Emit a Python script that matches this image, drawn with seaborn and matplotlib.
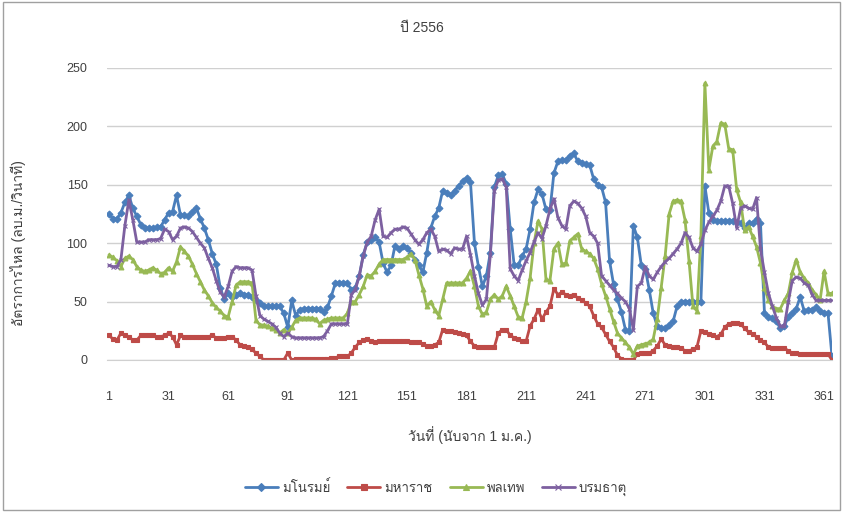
import pandas as pd
import seaborn as sns
import matplotlib
matplotlib.use("Agg")
import matplotlib.pyplot as plt
from matplotlib import font_manager
from matplotlib.ft2font import FT2Font

days = list(range(1, 366, 2))

manorom = [
    125, 121, 121, 126, 135, 141, 130, 123, 116, 113,
    113, 113, 114, 114, 120, 126, 127, 141, 124, 124,
    123, 127, 130, 121, 113, 103, 91, 82, 62, 52,
    57, 54, 56, 57, 56, 56, 54, 51, 49, 46,
    46, 46, 46, 46, 40, 28, 51, 38, 43, 44,
    44, 44, 44, 44, 41, 45, 55, 66, 66, 66,
    66, 60, 62, 72, 90, 101, 103, 105, 101, 83,
    75, 81, 98, 95, 98, 96, 92, 86, 81, 75,
    92, 113, 123, 130, 145, 143, 141, 145, 149, 153,
    156, 152, 100, 80, 63, 72, 92, 148, 158, 159,
    151, 112, 81, 81, 89, 95, 112, 135, 146, 142,
    129, 128, 160, 170, 171, 171, 175, 177, 170, 169,
    168, 167, 155, 150, 148, 135, 85, 65, 52, 41,
    26, 25, 115, 105, 81, 78, 60, 40, 29, 27,
    27, 30, 33, 46, 50, 50, 50, 50, 50, 50,
    149, 126, 120, 119, 119, 119, 119, 119, 118, 117,
    113, 117, 117, 121, 117, 40, 37, 36, 33, 27,
    29, 37, 40, 44, 54, 42, 43, 43, 45, 42,
    40, 40, 3,
]

maharat = [
    21, 18, 17, 23, 21, 20, 17, 17, 21, 21,
    21, 21, 20, 20, 21, 23, 20, 13, 21, 20,
    20, 20, 20, 20, 20, 20, 21, 19, 19, 19,
    20, 20, 17, 13, 12, 11, 9, 6, 3, 0,
    0, 0, 0, 0, 0, 6, 0, 1, 1, 1,
    1, 1, 1, 1, 1, 1, 2, 2, 3, 3,
    3, 6, 11, 15, 17, 18, 16, 15, 16, 16,
    16, 16, 16, 16, 16, 16, 15, 15, 15, 14,
    12, 12, 13, 15, 26, 25, 25, 24, 23, 22,
    21, 16, 12, 11, 11, 11, 11, 11, 23, 26,
    26, 21, 19, 18, 16, 16, 29, 35, 43, 35,
    41, 46, 61, 56, 58, 56, 55, 56, 53, 51,
    49, 46, 38, 31, 28, 22, 16, 11, 4, 1,
    0, 0, 0, 5, 6, 6, 6, 8, 12, 18,
    13, 12, 11, 11, 10, 8, 8, 9, 11, 25,
    24, 22, 21, 20, 22, 28, 31, 32, 32, 31,
    27, 24, 22, 20, 17, 15, 11, 10, 10, 10,
    10, 8, 6, 6, 5, 5, 5, 5, 5, 5,
    5, 5, 0,
]

phonlathep = [
    90, 88, 85, 80, 87, 89, 86, 80, 77, 76,
    77, 79, 77, 74, 75, 79, 76, 84, 97, 93,
    89, 82, 74, 67, 60, 55, 49, 45, 42, 38,
    37, 50, 64, 67, 67, 67, 66, 34, 30, 30,
    29, 27, 26, 23, 26, 23, 28, 34, 36, 36,
    36, 36, 35, 31, 34, 35, 36, 36, 36, 36,
    40, 50, 50, 56, 63, 73, 72, 76, 82, 86,
    86, 86, 86, 86, 86, 88, 91, 86, 73, 61,
    46, 50, 43, 38, 52, 66, 66, 66, 66, 66,
    70, 76, 63, 46, 39, 41, 52, 56, 52, 55,
    63, 55, 46, 37, 36, 50, 70, 100, 119, 112,
    69, 68, 95, 100, 82, 83, 102, 105, 108, 95,
    93, 91, 87, 78, 65, 55, 44, 33, 23, 19,
    15, 11, 5, 12, 13, 14, 15, 18, 35, 62,
    89, 125, 136, 137, 136, 120, 85, 46, 42, 106,
    237, 163, 183, 187, 203, 202, 181, 180, 146, 135,
    111, 114, 106, 97, 83, 62, 51, 46, 44, 44,
    51, 57, 75, 86, 75, 70, 66, 60, 56, 51,
    76, 57, 57,
]

boromathat = [
    81, 80, 80, 86, 115, 137, 120, 101, 101, 101,
    103, 103, 103, 104, 112, 110, 103, 106, 113, 114,
    113, 110, 105, 100, 96, 87, 79, 68, 58, 54,
    63, 76, 80, 79, 79, 79, 77, 55, 38, 35,
    33, 31, 28, 23, 20, 23, 20, 19, 19, 19,
    19, 19, 19, 19, 20, 25, 31, 31, 31, 31,
    31, 56, 60, 72, 89, 101, 106, 120, 129, 106,
    105, 109, 112, 112, 114, 113, 108, 103, 99, 103,
    109, 112, 106, 93, 95, 94, 91, 96, 95, 95,
    106, 90, 72, 57, 47, 52, 90, 145, 154, 155,
    148, 78, 72, 68, 77, 85, 92, 101, 109, 104,
    115, 129, 138, 122, 115, 112, 132, 136, 134, 130,
    123, 109, 106, 100, 72, 68, 64, 60, 57, 53,
    50, 44, 26, 63, 66, 80, 72, 69, 75, 80,
    84, 87, 91, 95, 100, 109, 105, 96, 93, 99,
    111, 118, 123, 128, 136, 149, 149, 134, 113, 130,
    132, 130, 129, 139, 95, 75, 57, 46, 36, 29,
    29, 50, 68, 71, 70, 66, 64, 56, 51, 51,
    51, 51, 51,
]

stations = ["มโนรมย์", "มหาราช", "พลเทพ", "บรมธาตุ"]
colors = ["#4A7EBB", "#BE4B48", "#98B954", "#7D60A0"]
marks = ["D", "s", "^", "x"]
x_ticks = list(range(1, 366, 30))
y_ticks = [0, 50, 100, 150, 200, 250]


def thai_font():
    # first installed font that has Thai glyphs
    for f in font_manager.fontManager.ttflist:
        try:
            if 0x0E21 in FT2Font(f.fname).get_charmap():
                return f.name
        except Exception:
            pass
    return None


sns.set_style("white")
fam = ["Liberation Sans"]
tf = thai_font()
if tf:
    fam.append(tf)
fam.append("DejaVu Sans")
plt.rcParams["font.family"] = fam

df = pd.DataFrame({
    "day": days * 4,
    "flow": manorom + maharat + phonlathep + boromathat,
    "station": sum([[s] * len(days) for s in stations], []),
})

fig = plt.figure(figsize=(8.43, 5.12), dpi=100)
ax = fig.add_axes([107 / 843, 152 / 512, 725 / 843, 292 / 512])

for s, c, m in zip(stations, colors, marks):
    sns.lineplot(data=df[df["station"] == s], x="day", y="flow", color=c,
                 marker=m, markersize=3.5, markeredgecolor=c, markeredgewidth=0.8,
                 linewidth=2, ax=ax)

ax.set_xlim(0, 365)
ax.set_ylim(0, 250)
ax.set_xticks(x_ticks)
ax.set_yticks(y_ticks)
ax.yaxis.grid(True, color="#D0D0D0", linewidth=1)
ax.xaxis.grid(False)
for sp in ["top", "right", "left"]:
    ax.spines[sp].set_visible(False)
ax.spines["bottom"].set_color("#D0D0D0")
ax.tick_params(axis="x", length=0, pad=22, labelsize=9, labelcolor="#404040")
ax.tick_params(axis="y", length=0, pad=14, labelsize=9, labelcolor="#404040")
ax.set_xlabel("")
ax.set_ylabel("")

fig.text(0.5, 1 - 28 / 512, "ปี 2556", ha="center", va="center", fontsize=10, color="#404040")
fig.text(18 / 843, 1 - 243 / 512, "อัตราการไหล (ลบ.ม./วินาที)", rotation=90,
         ha="center", va="center", fontsize=10, color="#404040")
fig.text(470 / 843, 1 - 435 / 512, "วันที่ (นับจาก 1 ม.ค.)", ha="center", va="center",
         fontsize=10, color="#404040")

handles = [plt.Line2D([], [], color=c, marker=m, markersize=4, linewidth=2,
                      markeredgecolor=c, markeredgewidth=0.8) for c, m in zip(colors, marks)]
fig.legend(handles, stations, loc="center", bbox_to_anchor=(436 / 843, 1 - 488 / 512),
           ncol=4, frameon=False, fontsize=9.5, handlelength=2.5, columnspacing=1.3,
           handletextpad=0.3, labelcolor="#404040")

fig.patches.append(plt.Rectangle((0.003, 0.004), 0.994, 0.992, transform=fig.transFigure,
                                 fill=False, edgecolor="#A0A0A0", linewidth=1))

fig.savefig("out.png", dpi=100)
